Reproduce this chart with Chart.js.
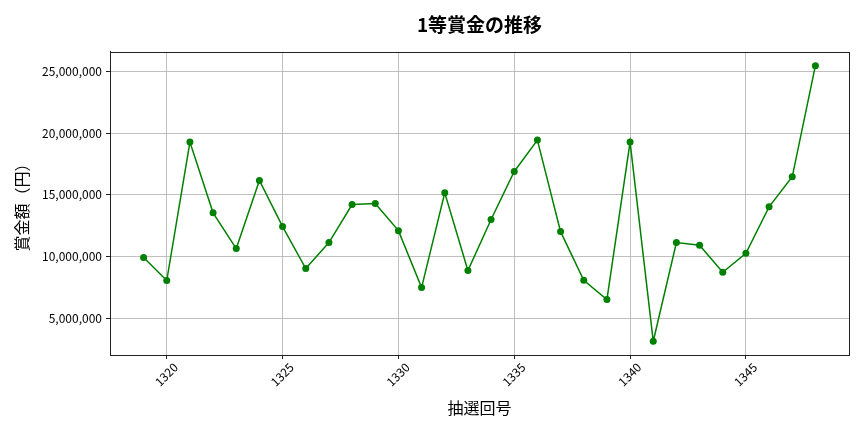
<!DOCTYPE html>
<html>
<head>
<meta charset="utf-8">
<script src="https://cdn.jsdelivr.net/npm/chart.js@4/dist/chart.umd.min.js"></script>
<style>
  html, body { margin: 0; padding: 0; background: #fff; }
  #wrap { width: 864px; height: 432px; }
</style>
</head>
<body>
<div id="wrap"><canvas id="prize"></canvas></div>
<script>
// 抽選回号
const drawNumbers = [
    1319, 1320, 1321, 1322, 1323, 1324, 1325, 1326, 1327, 1328,
    1329, 1330, 1331, 1332, 1333, 1334, 1335, 1336, 1337, 1338,
    1339, 1340, 1341, 1342, 1343, 1344, 1345, 1346, 1347, 1348
];
// 1等賞金（円）
const prizeValues = [
     9920000,  8060000, 19270000, 13540000, 10650000, 16160000, 12430000,  9030000, 11130000, 14210000,
    14290000, 12100000,  7490000, 15160000,  8870000, 13000000, 16890000, 19430000, 12020000,  8080000,
     6520000, 19270000,  3140000, 11130000, 10910000,  8730000, 10270000, 14030000, 16460000, 25460000
];
const xTicks = [ 1320, 1325, 1330, 1335, 1340, 1345 ];
const yTicks = [ 5000000, 10000000, 15000000, 20000000, 25000000 ];

const FONT = "'Noto Sans CJK JP', 'Noto Sans', sans-serif";
const INK  = '#222222';
const GRID = '#b0b0b0';

// matplotlib style frame around the plot area
const frameBox = {
    id: 'frameBox',
    afterDraw: function ( chart ) {
        const a   = chart.chartArea;
        const ctx = chart.ctx;
        ctx.save();
        ctx.strokeStyle = INK;
        ctx.lineWidth = 1;
        ctx.strokeRect( Math.round( a.left ) + 0.5, Math.round( a.top ) + 0.5,
                        Math.round( a.right - a.left ), Math.round( a.bottom - a.top ) );
        ctx.restore();
    }
};

const points = drawNumbers.map( function ( n, i ) {
    return { x: n, y: prizeValues[ i ] };
} );

new Chart( document.getElementById( 'prize' ).getContext( '2d' ), {
    type: 'line',
    data: {
        datasets: [ {
            data: points,
            borderColor: '#008000',
            backgroundColor: '#008000',
            borderWidth: 1.5,
            pointRadius: 3.5,
            pointBorderWidth: 0,
            pointBackgroundColor: '#008000',
            tension: 0
        } ]
    },
    options: {
        responsive: true,
        maintainAspectRatio: false,
        animation: false,
        layout: { padding: { left: 0, right: 15, top: 0, bottom: 0 } },
        plugins: {
            legend: { display: false },
            tooltip: { enabled: false },
            title: {
                display: true,
                text: '1等賞金の推移',
                fullSize: false,
                color: '#000',
                font: { family: FONT, size: 19, weight: 'bold' },
                padding: { top: 13, bottom: 16 }
            }
        },
        scales: {
            x: {
                type: 'linear',
                min: 1317.55,
                max: 1349.45,
                afterFit: function ( scale ) { scale.height = 77; },
                afterBuildTicks: function ( scale ) {
                    scale.ticks = xTicks.map( function ( v ) { return { value: v }; } );
                },
                grid: { color: GRID, lineWidth: 0.8, drawTicks: true, tickLength: 4, tickColor: INK, tickWidth: 1 },
                border: { display: true, color: INK, width: 1 },
                ticks: {
                    color: '#000',
                    font: { family: FONT, size: 12 },
                    minRotation: 45,
                    maxRotation: 45,
                    labelOffset: 9,
                    padding: 1,
                    callback: function ( v ) { return String( v ); }
                },
                title: {
                    display: true,
                    text: '抽選回号',
                    color: '#000',
                    font: { family: FONT, size: 16 },
                    padding: { top: 0, bottom: 14 }
                }
            },
            y: {
                min: 2030000,
                max: 26580000,
                afterFit: function ( scale ) { scale.width = 110; },
                afterBuildTicks: function ( scale ) {
                    scale.ticks = yTicks.map( function ( v ) { return { value: v }; } );
                },
                grid: { color: GRID, lineWidth: 0.8, drawTicks: true, tickLength: 4, tickColor: INK, tickWidth: 1 },
                border: { display: true, color: INK, width: 1 },
                ticks: {
                    color: '#000',
                    font: { family: FONT, size: 12 },
                    padding: 4,
                    callback: function ( v ) { return v.toLocaleString( 'en-US' ); }
                },
                title: {
                    display: true,
                    text: '賞金額（円）',
                    color: '#000',
                    font: { family: FONT, size: 16 },
                    padding: { top: 12, bottom: 0 }
                }
            }
        }
    },
    plugins: [ frameBox ]
} );
</script>
</body>
</html>
